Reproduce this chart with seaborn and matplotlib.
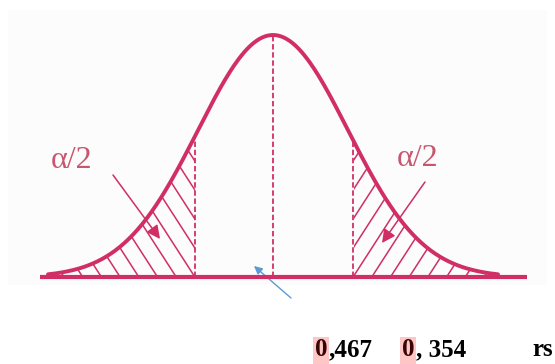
import numpy as np
import pandas as pd
import seaborn as sns
import matplotlib.pyplot as plt
from matplotlib.patches import Rectangle

# curve of the standard normal (peak scaled to 1), drawn from z=-3 to z=3
z_values = np.linspace(-3.0, 3.0, 301)
density = np.exp(-z_values ** 2 / 2)
crit_left = -1.04
crit_right = 1.07
tail_label = "α/2"
table_values = [",467", ", 354"]
table_header = "rs"

curve_color = "#d12e66"
label_color = "#c9566e"

sns.set_style("white")

# pixel -> data helpers (reference is 555x364)
X0, SX = 273, 75
Y0, SY = 277, 242


def px(x, y):
    return (x - X0) / SX, (Y0 - y) / SY


fig = plt.figure(figsize=(5.55, 3.64), dpi=100)
ax = fig.add_axes([0, 0, 1, 1])
ax.set_xlim(-X0 / SX, (555 - X0) / SX)
ax.set_ylim((Y0 - 364) / SY, Y0 / SY)
ax.axis("off")

ax.add_patch(Rectangle((8 / 555, 79 / 364), 539 / 555, 275 / 364,
                       transform=ax.transAxes, facecolor="#fbfcfb",
                       edgecolor="none", zorder=0))

df = pd.DataFrame({"z": z_values, "f": density})

# hatched tails, lines clipped to each tail area
left = df[df.z <= crit_left]
right = df[df.z >= crit_right]
slope = 1.55 * SX / SY
for part, starts, sign in [(left, np.arange(64, 320, 18.7), -1),
                           (right, np.arange(484, 240, -18.7), 1)]:
    area = ax.fill_between(part.z, 0, part.f, facecolor="none",
                           linewidth=0, zorder=1)
    for xb in starts:
        z0 = px(xb, 0)[0]
        ln, = ax.plot([z0, z0 + sign * 3], [0, 3 * slope],
                      color=curve_color, linewidth=1.1, zorder=1)
        ln.set_clip_path(area.get_paths()[0], ax.transData)

sns.lineplot(data=df, x="z", y="f", color=curve_color, linewidth=2.8, ax=ax,
             zorder=3)

# dashed verticals
for zc in [crit_left, crit_right]:
    ax.plot([zc, zc], [0, np.exp(-zc ** 2 / 2)], color=curve_color,
            linestyle=(0, (3, 1.5)), linewidth=1.3, zorder=2)
ax.plot([0, 0], [0, 0.99], color=curve_color, linestyle=(0, (3, 1.5)),
        linewidth=1.3, zorder=2)

# baseline
ax.plot([px(40, 0)[0], px(527, 0)[0]], [0, 0], color=curve_color,
        linewidth=3, solid_capstyle="butt", zorder=4)

# alpha/2 labels with pointers
for lx, ly, tail, head in [(72, 160, (113, 175), (160, 239)),
                           (418, 159, (425, 182), (382, 243))]:
    ax.text(*px(lx, ly), tail_label, family="Liberation Serif", fontsize=23,
            color=label_color, ha="center", va="center")
    ax.annotate("", xy=px(*head), xytext=px(*tail),
                arrowprops=dict(arrowstyle="-|>", color=curve_color, lw=1.1,
                                mutation_scale=20, shrinkA=0, shrinkB=0),
                zorder=5)

# blue arrow
ax.annotate("", xy=px(254, 266), xytext=px(291, 298),
            arrowprops=dict(arrowstyle="-|>", color="#5b9bd5", lw=1,
                            mutation_scale=12, shrinkA=0, shrinkB=0))

# table values under the chart
for x0, txt in zip([315, 402], table_values):
    ax.text(*px(x0, 350), "0", family="Liberation Serif", fontweight="bold",
            fontsize=18, color="#3a0505", ha="left", va="center",
            bbox=dict(boxstyle="square,pad=0.08", facecolor="#ffc6c6",
                      edgecolor="none"))
    ax.text(*px(x0 + 14, 350), txt, family="Liberation Serif",
            fontweight="bold", fontsize=18, color="black", ha="left",
            va="center")
ax.text(*px(532, 350), table_header, family="Liberation Serif",
        fontweight="bold", fontsize=18, color="black", ha="left", va="center")

fig.savefig("out.png", dpi=100, facecolor="white")
